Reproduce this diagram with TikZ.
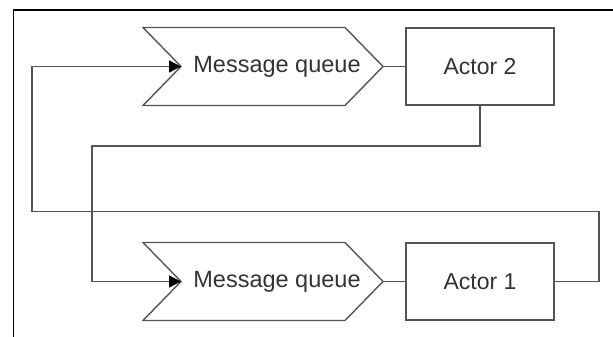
\documentclass[tikz,border=0pt]{standalone}
\usepackage{fontspec}
\setmainfont{Liberation Sans}
\usetikzlibrary{arrows.meta}
\definecolor{ln}{HTML}{555555}
\definecolor{tx}{HTML}{333333}
\tikzset{
  actorbox/.style={draw=ln, line width=1.4pt, minimum width=148pt, minimum height=77pt, inner sep=0pt, outer sep=0pt, text=tx, font=\fontsize{23}{26}\selectfont},
  qlabel/.style={text=tx, font=\fontsize{23.5}{26}\selectfont, inner sep=0pt},
  chev/.style={draw=ln, line width=1.4pt, line join=miter},
  conn/.style={draw=ln, line width=1.4pt},
  arr/.style={conn, -{Triangle[length=12pt,width=12pt,fill=black,color=black]}}
}
\begin{document}
\begin{tikzpicture}[x=1pt,y=-1pt]
\useasboundingbox (0,0) rectangle (613,337);
\fill[white] (0,0) rectangle (613,337);
\draw[black, line width=1.5pt] (13.5,337) -- (13.5,10) -- (613,10);

% top chevron (queue of Actor 2)
\draw[chev] (143,27.5) -- (345,27.5) -- (383,66.5) -- (345,105.5) -- (143,105.5) -- (181,66.5) -- cycle;
\coordinate (mq2in) at (181,66.5);
\coordinate (mq2out) at (383,66.5);
\node[qlabel] (mq2) at (277,66.5) {Message queue};
\node[actorbox] (a2) at (480,66.5) {Actor 2};

% bottom chevron (queue of Actor 1)
\draw[chev] (143,242.5) -- (345,242.5) -- (383,281.5) -- (345,320.5) -- (143,320.5) -- (181,281.5) -- cycle;
\coordinate (mq1in) at (181,281.5);
\coordinate (mq1out) at (383,281.5);
\node[qlabel] (mq1) at (277,281.5) {Message queue};
\node[actorbox] (a1) at (480,281.5) {Actor 1};

% queue to actor links
\draw[conn] (mq2out) -- (a2.west);
\draw[conn] (mq1out) -- (a1.west);

% routing coordinates
\coordinate (r1) at (599,281.5);
\coordinate (r2) at (599,211.5);
\coordinate (r3) at (32,211.5);
\coordinate (r4) at (32,66.5);
\coordinate (s1) at (480,146);
\coordinate (s2) at (92,146);
\coordinate (s3) at (92,281.5);

\draw[arr] (a1.east) -- (r1) -- (r2) -- (r3) -- (r4) -- (mq2in);
\draw[arr] (a2.south) -- (s1) -- (s2) -- (s3) -- (mq1in);
\end{tikzpicture}
\end{document}
